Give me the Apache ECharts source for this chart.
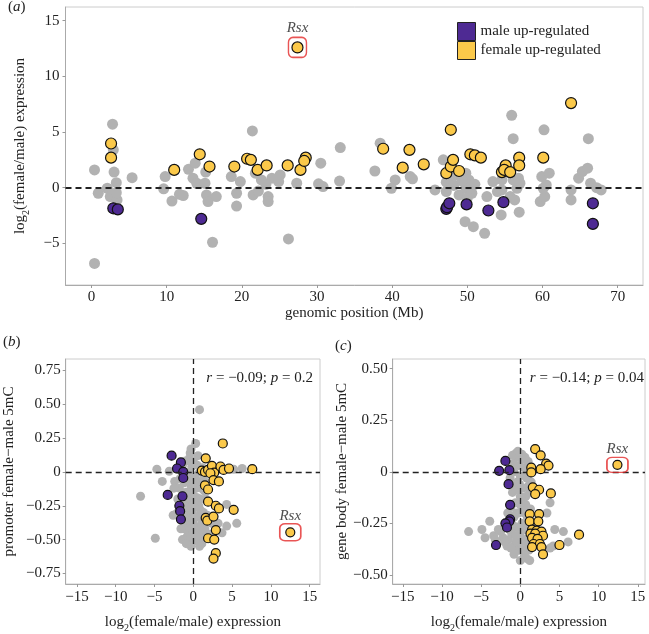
<!DOCTYPE html>
<html><head><meta charset="utf-8">
<script src="https://cdn.jsdelivr.net/npm/echarts@6.0.0/dist/echarts.min.js"></script>
<style>html,body{margin:0;padding:0;background:#fff}#c{width:649px;height:634px}</style>
</head><body><div id="c"></div>
<script>
// ---------- Panel (a): genomic position vs log2 expression ----------
const aGray = [[0.4,1.6],[0.9,-0.5],[0.4,-6.8],[2.8,5.7],[2.9,3.4],[3.0,1.4],[2.1,-0.05],[3.3,0.45],[2.5,-0.8],[3.4,-1.1],[3.3,-0.45],[5.4,0.9],[9.8,1.0],[9.6,-0.1],[10.7,-1.2],[11.7,-0.6],[12.2,-0.7],[12.9,1.65],[13.8,2.2],[13.5,0.85],[14.0,0.4],[15.2,1.4],[15.1,0.4],[15.3,-0.65],[15.5,-1.25],[16.6,-0.8],[16.1,-4.9],[18.6,1.0],[19.8,0.55],[19.3,-0.5],[19.3,-1.65],[21.4,5.1],[21.8,1.3],[21.5,-0.65],[22.6,0.7],[23.5,-0.8],[23.5,-1.25],[24.0,0.85],[25.1,1.15],[24.9,0.55],[23.2,0.3],[22.2,-0.3],[27.3,0.4],[26.2,-4.6],[30.5,2.2],[30.2,0.35],[30.8,0.1],[33.1,3.6],[33.0,0.6],[37.7,1.5],[38.4,4.0],[40.4,0.7],[39.9,-0.05],[42.4,1.0],[42.7,0.8],[45.7,-0.2],[46.8,2.5],[47.2,0.5],[47.2,-0.35],[47.6,0.25],[47.5,0.9],[48.4,1.1],[48.2,0.2],[48.9,-0.65],[49.8,1.3],[50.2,0.7],[49.8,-0.05],[50.6,-0.5],[49.3,0.6],[50.0,-0.9],[51.0,0.3],[49.7,-3.05],[50.8,-3.5],[52.3,-4.1],[52.6,-0.8],[53.4,0.55],[54.0,-0.35],[54.5,-2.45],[54.8,1.6],[54.6,-0.2],[54.6,0.7],[55.7,-0.8],[55.9,6.5],[56.1,4.4],[56.1,0.7],[56.3,-1.1],[56.6,-0.05],[56.8,0.85],[56.9,-2.2],[57.0,0.4],[59.7,-1.25],[60.3,-0.8],[60.1,-0.05],[59.9,1.0],[60.9,1.3],[60.5,0.25],[60.2,5.2],[63.8,-0.2],[63.8,-1.1],[64.8,0.85],[65.3,1.45],[66.0,1.75],[66.1,4.4],[66.4,0.4],[67.2,0.0],[67.8,-0.2]];
const aMale = [[2.9,-1.85],[3.5,-1.95],[14.6,-2.8],[47.2,-1.9],[47.3,-1.75],[47.6,-1.4],[49.9,-1.5],[52.8,-2.05],[54.8,-1.3],[66.7,-1.4],[66.7,-3.25]];
const aFemale = [[2.6,3.97],[2.6,2.7],[11.0,1.6],[14.4,3.0],[15.7,1.9],[19.0,1.9],[20.7,2.6],[21.2,2.5],[22.1,1.6],[23.3,2.0],[26.1,2.0],[27.8,1.6],[28.5,2.7],[28.3,2.4],[38.8,3.5],[41.4,1.8],[42.3,3.4],[44.2,2.1],[47.8,5.2],[47.2,1.3],[47.8,1.9],[48.1,2.5],[48.9,1.5],[50.4,3.0],[51.0,2.9],[51.8,2.7],[54.6,1.4],[55.1,2.0],[54.9,1.6],[55.7,1.4],[56.9,2.7],[56.9,2.0],[60.1,2.7],[63.8,7.6]];
const aRsx = [[27.4,12.6]];
const aXTicks = [0,10,20,30,40,50,60,70];
const aYTicks = [-5,0,5,10,15];

// ---------- Panel (b): expression vs promoter 5mC ----------
const bGray = [[0.8,0.46],[0.3,0.21],[-6.8,-0.18],[-4.9,-0.49],[-4.7,0.02],[-4.0,-0.07],[-3.1,0.005],[5.2,0.02],[6.3,0.025],[4.3,-0.24],[5.6,-0.38],[4.3,-0.40],[3.7,-0.45],[-0.7,-0.47],[0.0,-0.51],[1.1,-0.53],[-2.6,-0.32],[-2.4,-0.07],[-0.4,0.14],[-1.0,0.08],[-0.5,0.1],[0.0,0.08],[0.5,0.05],[-1.5,0.0],[-0.8,-0.02],[0.2,-0.03],[0.8,0.0],[-1.2,-0.08],[-0.3,-0.1],[0.4,-0.12],[-1.8,-0.12],[-0.9,-0.15],[0.1,-0.18],[0.9,-0.2],[-0.5,-0.22],[-1.3,-0.25],[0.3,-0.26],[-0.2,-0.3],[-0.9,-0.33],[0.6,-0.33],[-2.2,-0.31],[0.0,-0.37],[-0.6,-0.4],[0.5,-0.41],[-1.2,-0.42],[-0.1,-0.45],[0.8,-0.46],[-0.8,-0.48],[0.3,-0.5],[1.2,-0.5],[-0.3,-0.55],[1.5,-0.42],[1.3,-0.3],[1.0,-0.12],[1.6,-0.2],[-1.6,-0.42],[2.0,-0.46],[-0.5,0.0],[0.5,-0.07],[-0.2,-0.16],[0.7,-0.25],[-0.7,-0.28],[0.2,-0.42],[-0.4,-0.36],[1.1,-0.38],[-1.0,-0.2],[-1.9,-0.3],[2.4,-0.38],[3.2,-0.38],[-1.4,0.05],[-0.2,0.04],[1.2,0.03],[-1.7,-0.05],[-0.6,-0.06],[1.3,-0.05],[-1.4,-0.17],[-0.4,-0.2],[0.5,-0.19],[1.4,-0.14],[-1.6,-0.3],[-0.9,-0.26],[0.9,-0.28],[1.8,-0.32],[-1.2,-0.36],[0.0,-0.24],[-0.5,-0.44],[0.6,-0.47],[1.6,-0.48],[-1.4,-0.5],[-0.9,-0.53],[0.8,-0.55],[0.2,-0.33],[-0.2,-0.42],[1.0,-0.42],[-2.0,-0.2],[-2.5,-0.12],[1.5,-0.08],[-0.3,0.17],[0.6,0.12]];
const bMale = [[-2.8,0.12],[-1.6,0.07],[-2.1,0.025],[-1.3,0.0],[-1.3,-0.045],[-3.3,-0.17],[-1.4,-0.18],[-1.8,-0.25],[-1.7,-0.29],[-1.6,-0.35]];
const bFemale = [[7.6,0.02],[3.8,0.21],[1.6,0.10],[1.1,0.01],[1.5,0.0],[1.9,0.015],[2.4,0.045],[2.7,-0.005],[3.5,0.04],[3.9,0.015],[4.6,0.025],[2.2,-0.01],[2.6,-0.06],[1.5,-0.10],[1.9,-0.13],[3.3,-0.07],[1.9,-0.22],[2.9,-0.25],[3.3,-0.27],[5.2,-0.28],[1.6,-0.34],[1.8,-0.36],[2.6,-0.33],[2.9,-0.43],[1.9,-0.49],[2.7,-0.50],[2.9,-0.60],[2.6,-0.64]];
const bRsx = [[12.5,-0.446]];
const bXTicks = [-15,-10,-5,0,5,10,15];
const bYTicks = [-0.75,-0.5,-0.25,0,0.25,0.5,0.75];

// ---------- Panel (c): expression vs gene body 5mC ----------
const cGray = [[-6.6,-0.29],[-4.9,-0.28],[-4.5,-0.32],[-3.4,-0.31],[-3.9,-0.24],[-0.55,0.09],[0.2,0.085],[0.8,-0.42],[1.2,-0.43],[3.8,-0.15],[3.4,-0.2],[4.4,-0.28],[5.5,-0.29],[6.1,-0.34],[4.2,-0.36],[3.8,-0.37],[-0.9,-0.365],[-1.7,-0.36],[0.0,-0.16],[-0.5,0.07],[0.3,0.06],[-0.2,0.03],[0.5,0.02],[-0.8,0.0],[0.0,-0.02],[0.8,-0.03],[-0.4,-0.05],[0.3,-0.08],[-1.0,-0.1],[0.0,-0.12],[0.7,-0.12],[-0.6,-0.15],[0.4,-0.17],[-0.2,-0.2],[0.9,-0.22],[-0.8,-0.22],[0.2,-0.25],[-0.4,-0.27],[0.6,-0.28],[-1.1,-0.3],[0.0,-0.31],[0.9,-0.33],[-0.5,-0.34],[0.4,-0.36],[-1.2,-0.37],[1.1,-0.38],[-0.2,-0.38],[1.6,-0.25],[1.3,-0.18],[-1.5,-0.33],[-2.2,-0.32],[-2.5,-0.29],[-0.9,0.04],[1.0,0.05],[-0.3,-0.09],[0.6,-0.2],[-0.6,-0.31],[0.5,-0.33],[-1.6,-0.2],[1.2,-0.1],[-1.0,0.08],[0.6,0.07],[-0.3,0.1],[0.9,0.0],[-1.3,-0.03],[-0.7,-0.08],[1.0,-0.07],[0.2,-0.14],[-1.2,-0.17],[-0.2,-0.27],[1.2,-0.28],[-0.9,-0.26],[0.2,-0.35],[-0.8,-0.4],[0.5,-0.4],[-1.4,-0.28],[0.7,-0.16],[-0.5,-0.2],[1.4,-0.33],[-2.0,-0.34],[-2.8,-0.28],[-3.2,-0.33],[0.0,-0.43],[1.4,-0.05],[-0.1,-0.06]];
const cMale = [[-1.9,0.053],[-2.7,0.005],[-1.4,0.008],[-1.5,-0.06],[-1.3,-0.16],[-1.3,-0.23],[-1.4,-0.24],[-1.9,-0.25],[-1.7,-0.27],[-3.1,-0.355]];
const cFemale = [[1.9,0.11],[2.6,0.08],[3.3,0.04],[3.6,0.03],[2.6,0.013],[1.4,0.02],[1.4,-0.003],[1.6,-0.075],[2.4,-0.087],[1.9,-0.108],[3.9,-0.105],[1.2,-0.205],[2.4,-0.205],[1.2,-0.24],[2.3,-0.24],[1.5,-0.28],[2.1,-0.285],[2.7,-0.29],[1.3,-0.30],[1.9,-0.30],[2.9,-0.31],[1.5,-0.32],[2.2,-0.325],[1.7,-0.35],[2.5,-0.35],[1.5,-0.365],[2.7,-0.365],[2.9,-0.40],[5.0,-0.355],[7.5,-0.305]];
const cRsx = [[12.4,0.034]];
const cXTicks = [-15,-10,-5,0,5,10,15];
const cYTicks = [-0.5,-0.25,0,0.25,0.5];

const serif = "'Liberation Serif','DejaVu Serif',serif";
const GRAY = '#b2b2b2', PURPLE = '#4e2a93', YELLOW = '#fbc94a', RED = '#e32a2a', TXT = '#222';

function fmtNum(v, dec) {
  if (v === 0) return '0';
  return (dec ? v.toFixed(dec) : String(v)).replace('-', '\u2212');
}
const subRich = {
  n: { fontFamily: serif, fontSize: 15, color: TXT, verticalAlign: 'middle', lineHeight: 22 },
  s: { fontFamily: serif, fontSize: 10, color: TXT, verticalAlign: 'bottom', lineHeight: 10 }
};
const exprName = '{n|log}{s|2}{n|(female/male) expression}';

function axis(type, gi, min, max, ticks, dec, name, nameGap, labelMargin, rich) {
  return {
    type: 'value', gridIndex: gi, min: min, max: max,
    name: name, nameLocation: 'middle', nameGap: nameGap,
    nameTextStyle: { fontFamily: serif, fontSize: 15, color: TXT, rich: rich || undefined },
    splitLine: { show: false },
    axisLine: { show: true, onZero: false, lineStyle: { color: '#aaaaaa', width: 1 } },
    axisTick: { show: true, length: 3, customValues: ticks, lineStyle: { color: '#999' } },
    axisLabel: { customValues: ticks, margin: labelMargin, fontFamily: serif, fontSize: 15, color: TXT,
      formatter: v => fmtNum(v, dec) }
  };
}

function pts(gi, name, data, color, size, bordered, z) {
  return {
    type: 'scatter', name: name, xAxisIndex: gi, yAxisIndex: gi, data: data,
    symbolSize: size, z: z, animation: false, silent: true,
    itemStyle: { color: color, opacity: 1, borderColor: bordered ? '#111' : color, borderWidth: bordered ? 1.2 : 0 }
  };
}
function zeroLines(gi, both) {
  const d = [{ yAxis: 0 }];
  if (both) d.push({ xAxis: 0 });
  return {
    type: 'scatter', xAxisIndex: gi, yAxisIndex: gi, data: [], z: 3, silent: true, animation: false,
    markLine: { silent: true, animation: false, symbol: ['none', 'none'], label: { show: false },
      lineStyle: { color: '#222', type: [6, 4], width: both ? 1.3 : 1.8 }, data: d }
  };
}
function rsxBox(gi, data, size, dist) {
  return {
    type: 'scatter', xAxisIndex: gi, yAxisIndex: gi, data: data, symbol: 'roundRect', symbolSize: size,
    z: 6, silent: true, animation: false,
    itemStyle: { color: 'rgba(0,0,0,0)', borderColor: RED, borderWidth: 1.5 },
    label: { show: true, position: 'top', distance: dist, formatter: 'Rsx',
      fontFamily: serif, fontStyle: 'italic', fontSize: 15, color: TXT }
  };
}

const chart = echarts.init(document.getElementById('c'), null, { renderer: 'canvas' });
chart.setOption({
  backgroundColor: '#fff',
  animation: false,
  grid: [
    { left: 65.5, top: 7, width: 577.5, height: 278, show: true, borderColor: '#cccccc', borderWidth: 1 },
    { left: 65.7, top: 359, width: 254.3, height: 226.7, show: true, borderColor: '#cccccc', borderWidth: 1 },
    { left: 392.7, top: 359, width: 252.3, height: 226.7, show: true, borderColor: '#cccccc', borderWidth: 1 }
  ],
  xAxis: [
    axis('x', 0, -3.46, 73.37, aXTicks, 0, 'genomic position (Mb)', 21, 5),
    axis('x', 1, -16.45, 16.33, bXTicks, 0, exprName, 27, 6, subRich),
    axis('x', 2, -16.29, 15.92, cXTicks, 0, exprName, 27, 6, subRich)
  ],
  yAxis: [
    axis('y', 0, -8.74, 16.23, aYTicks, 0, '{n|log}{s|2}{n|(female/male) expression}', 34, 6, subRich),
    axis('y', 1, -0.828, 0.834, bYTicks, 2, 'promoter female\u2212male 5mC', 49, 5),
    axis('y', 2, -0.544, 0.547, cYTicks, 2, 'gene body female\u2212male 5mC', 41, 5)
  ],
  legend: {
    data: ['male up-regulated', 'female up-regulated'], orient: 'vertical', left: 452, top: 17,
    itemWidth: 18, itemHeight: 18, itemGap: 0, icon: 'rect', selectedMode: false,
    itemStyle: { borderColor: '#222', borderWidth: 1 },
    textStyle: { fontFamily: serif, fontSize: 15, color: TXT }
  },
  series: [
    pts(0, 'gray', aGray, GRAY, 11, false, 2),
    zeroLines(0, false),
    pts(0, 'male up-regulated', aMale, PURPLE, 11, true, 4),
    pts(0, 'female up-regulated', aFemale.concat(aRsx), YELLOW, 11, true, 5),
    rsxBox(0, aRsx, [18, 20], 1),

    pts(1, 'gray', bGray, GRAY, 9, false, 2),
    zeroLines(1, true),
    pts(1, 'male up-regulated', bMale, PURPLE, 9, true, 4),
    pts(1, 'female up-regulated', bFemale.concat(bRsx), YELLOW, 9, true, 5),
    rsxBox(1, bRsx, [21, 17], 0),

    pts(2, 'gray', cGray, GRAY, 9, false, 2),
    zeroLines(2, true),
    pts(2, 'male up-regulated', cMale, PURPLE, 9, true, 4),
    pts(2, 'female up-regulated', cFemale.concat(cRsx), YELLOW, 9, true, 5),
    rsxBox(2, cRsx, [21, 15], 0)
  ],
  graphic: [
    { type: 'text', left: 8, top: 0, style: { text: '({i|a})', font: '15px ' + serif, fill: TXT,
      rich: { i: { fontStyle: 'italic', fontFamily: serif, fontSize: 15 } } } },
    { type: 'text', left: 3, top: 335, style: { text: '({i|b})', font: '15px ' + serif, fill: TXT,
      rich: { i: { fontStyle: 'italic', fontFamily: serif, fontSize: 15 } } } },
    { type: 'text', left: 335, top: 339, style: { text: '({i|c})', font: '15px ' + serif, fill: TXT,
      rich: { i: { fontStyle: 'italic', fontFamily: serif, fontSize: 15 } } } },
    { type: 'text', right: 649 - 313, top: 371, style: { text: '{i|r} = \u22120.09; {i|p} = 0.2', font: '15px ' + serif, fill: TXT,
      rich: { i: { fontStyle: 'italic', fontFamily: serif, fontSize: 15 } } } },
    { type: 'text', right: 649 - 644, top: 371, style: { text: '{i|r} = \u22120.14; {i|p} = 0.04', font: '15px ' + serif, fill: TXT,
      rich: { i: { fontStyle: 'italic', fontFamily: serif, fontSize: 15 } } } }
  ]
});
</script></body></html>
